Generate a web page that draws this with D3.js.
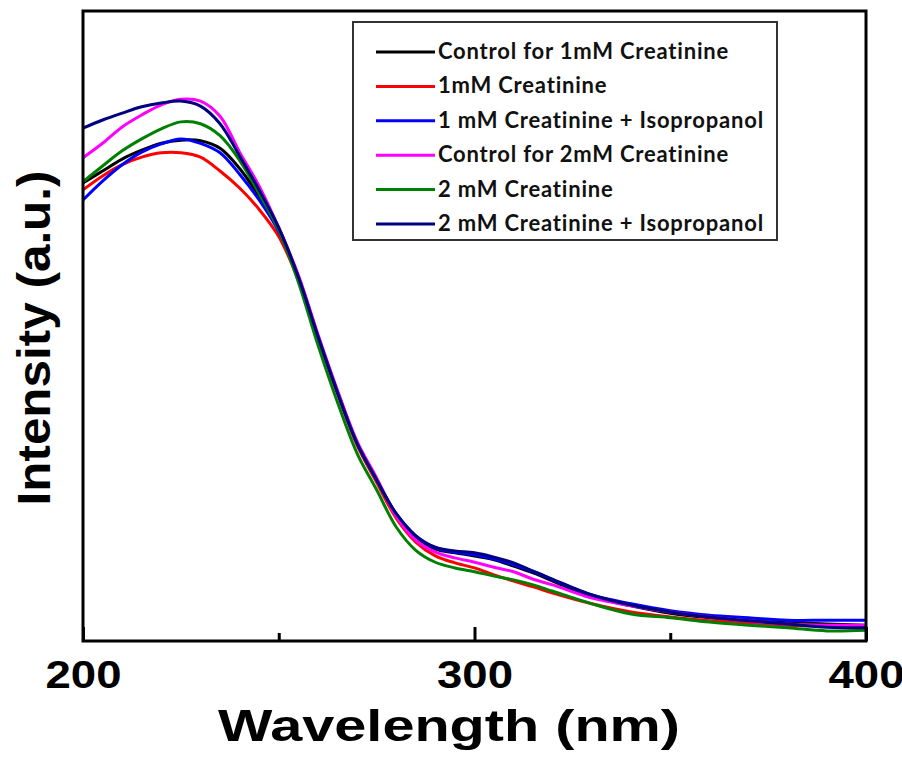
<!DOCTYPE html>
<html>
<head>
<meta charset="utf-8">
<script src="https://cdn.jsdelivr.net/npm/d3@7/dist/d3.min.js"></script>
<style>
  body { margin: 0; background: #fff; }
  svg { display: block; }
</style>
</head>
<body>
<div id="chart"></div>
<script>
// wavelength grid (nm)
const wavelength = [200, 205, 210, 215, 220, 225, 230, 235, 240, 245, 250, 255, 260, 265, 270, 275, 280,
  285, 290, 295, 300, 305, 310, 315, 320, 330, 340, 350, 360, 370, 380, 390, 400];

// intensities (arbitrary units)
const control1mM = [72.7, 74.6, 76.5, 77.9, 79.0, 79.5, 79.4, 78.2, 75.0, 70.6, 65.4, 57.8, 48.4, 39.5, 31.4, 25.6, 20.0,
  16.5, 14.6, 14.0, 13.5, 12.9, 11.9, 10.8, 9.5, 7.0, 5.6, 4.4, 3.7, 3.2, 2.9, 2.7, 2.5];
const creat1mM = [71.6, 73.8, 75.6, 76.8, 77.5, 77.5, 76.8, 74.6, 71.9, 68.5, 64.2, 57.3, 48.1, 39.2, 31.1, 25.2, 19.5,
  15.7, 13.5, 12.4, 11.6, 10.5, 9.5, 8.6, 7.6, 5.9, 4.6, 3.8, 3.2, 2.9, 2.5, 2.4, 2.2];
const creat1mMIso = [70.0, 73.0, 75.6, 77.6, 78.9, 79.7, 79.0, 77.5, 74.1, 70.0, 65.0, 57.8, 48.4, 39.5, 31.4, 25.6, 20.2,
  16.7, 14.8, 14.1, 13.7, 13.0, 12.1, 11.0, 9.7, 7.3, 5.9, 4.8, 4.1, 3.7, 3.3, 3.3, 3.3];
const control2mM = [76.7, 79.0, 81.6, 83.5, 85.1, 86.0, 85.7, 83.3, 77.6, 72.2, 65.6, 58.1, 48.7, 39.8, 31.7, 25.9, 19.8,
  16.0, 14.1, 13.2, 12.5, 11.7, 11.0, 9.8, 8.9, 6.8, 5.6, 4.6, 3.8, 3.2, 2.7, 2.5, 2.5];
const creat2mM = [72.9, 75.4, 77.8, 79.7, 81.3, 82.4, 82.1, 80.2, 76.3, 71.0, 65.2, 57.0, 47.0, 37.9, 29.8, 24.0, 18.1,
  14.4, 12.5, 11.6, 11.0, 10.3, 9.7, 8.9, 7.9, 5.9, 4.3, 3.7, 3.0, 2.5, 2.1, 1.6, 1.7];
const creat2mMIso = [81.4, 82.7, 83.8, 84.8, 85.4, 85.7, 84.9, 82.1, 77.0, 71.6, 65.6, 57.8, 48.4, 39.5, 31.4, 25.6, 20.2,
  16.7, 14.9, 14.3, 14.0, 13.3, 12.4, 11.1, 9.8, 7.3, 5.7, 4.6, 3.8, 3.2, 2.7, 2.2, 2.1];

const seriesNames = ["Control for 1mM Creatinine", "1mM Creatinine", "1 mM Creatinine + Isopropanol",
  "Control for 2mM Creatinine", "2 mM Creatinine", "2 mM Creatinine + Isopropanol"];
const seriesValues = [control1mM, creat1mM, creat1mMIso, control2mM, creat2mM, creat2mMIso];
const seriesColors = ["#000000", "#ff0000", "#0000ff", "#ff00ff", "#008000", "#000080"];

const majorTicks = [200, 300, 400];
const minorTicks = [250, 350];

const width = 902;
const height = 757;
const margin = { left: 83, right: 866, top: 11, bottom: 641 };

const x = d3.scaleLinear().domain([200, 400]).range([margin.left, margin.right]);
const y = d3.scaleLinear().domain([0, 100]).range([margin.bottom, margin.top]);

const svg = d3.select("#chart").append("svg")
    .attr("width", width)
    .attr("height", height);

const plot = svg.append("g");

const line = d3.line()
    .x(d => x(d[0]))
    .y(d => y(d[1]))
    .curve(d3.curveCatmullRom.alpha(0.5));

seriesValues.forEach((vals, i) => {
    plot.append("path")
        .datum(wavelength.map((w, j) => [w, vals[j]]))
        .attr("fill", "none")
        .attr("stroke", seriesColors[i])
        .attr("stroke-width", 3)
        .attr("stroke-linejoin", "round")
        .attr("d", line);
});

// frame
svg.append("rect")
    .attr("x", margin.left)
    .attr("y", margin.top)
    .attr("width", margin.right - margin.left)
    .attr("height", margin.bottom - margin.top)
    .attr("fill", "none")
    .attr("stroke", "#000")
    .attr("stroke-width", 3);

// bottom axis, ticks pointing in
const axisMajor = svg.append("g")
    .attr("transform", `translate(0,${margin.bottom})`)
    .call(d3.axisBottom(x).tickValues(majorTicks).tickSize(-14).tickPadding(20).tickFormat(d3.format("d")));
const axisMinor = svg.append("g")
    .attr("transform", `translate(0,${margin.bottom})`)
    .call(d3.axisBottom(x).tickValues(minorTicks).tickSize(-8).tickFormat(""));

[axisMajor, axisMinor].forEach(a => {
    a.select(".domain").remove();
    a.selectAll("line").attr("stroke", "#000").attr("stroke-width", 3);
});
axisMajor.selectAll("text")
    .attr("fill", "#000")
    .style("font-family", "'Liberation Sans', Arial, sans-serif")
    .style("font-weight", "bold")
    .style("font-size", "38px")
    .attr("textLength", 76)
    .attr("lengthAdjust", "spacingAndGlyphs");

// axis titles
svg.append("text")
    .attr("x", 449)
    .attr("y", 741)
    .attr("text-anchor", "middle")
    .style("font-family", "'Liberation Sans', Arial, sans-serif")
    .style("font-weight", "bold")
    .style("font-size", "45px")
    .attr("textLength", 462)
    .attr("lengthAdjust", "spacingAndGlyphs")
    .text("Wavelength (nm)");

svg.append("text")
    .attr("transform", "translate(50,338) rotate(-90)")
    .attr("text-anchor", "middle")
    .style("font-family", "'Liberation Sans', Arial, sans-serif")
    .style("font-weight", "bold")
    .style("font-size", "46px")
    .attr("textLength", 335)
    .attr("lengthAdjust", "spacingAndGlyphs")
    .text("Intensity (a.u.)");

// legend
const legend = svg.append("g");
legend.append("rect")
    .attr("x", 353)
    .attr("y", 22)
    .attr("width", 424)
    .attr("height", 218)
    .attr("fill", "#fff")
    .attr("stroke", "#333")
    .attr("stroke-width", 2);

seriesNames.forEach((name, i) => {
    const ly = 52 + i * 34.4;
    legend.append("line")
        .attr("x1", 376).attr("x2", 435)
        .attr("y1", ly).attr("y2", ly)
        .attr("stroke", seriesColors[i])
        .attr("stroke-width", 3);
    legend.append("text")
        .attr("x", 438)
        .attr("y", ly + 7)
        .style("font-family", "Lato, 'Open Sans', sans-serif")
        .style("font-weight", "bold")
        .style("font-size", "22px")
        .style("letter-spacing", "0.8px")
        .attr("fill", "#111")
        .text(name);
});
</script>
</body>
</html>
